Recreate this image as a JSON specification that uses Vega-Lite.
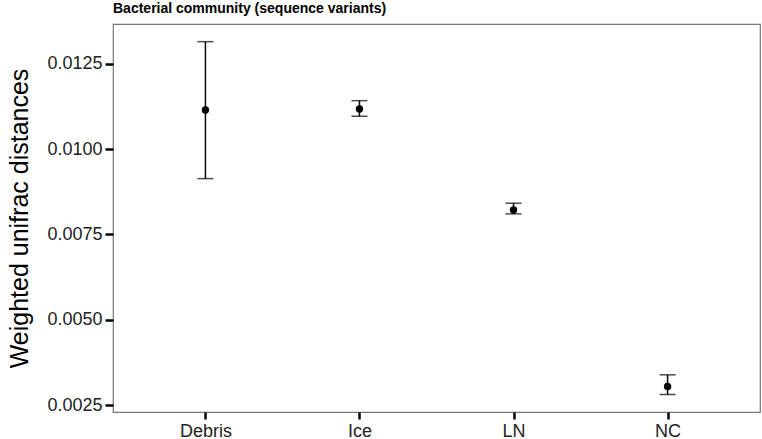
{
  "$schema": "https://vega.github.io/schema/vega-lite/v6.json",
  "autosize": "none",
  "width": 647,
  "height": 388,
  "padding": {"left": 113, "top": 24, "right": 2, "bottom": 27},
  "background": "white",
  "title": {
    "text": "Bacterial community (sequence variants)",
    "anchor": "start",
    "frame": "group",
    "font": "Liberation Sans",
    "fontSize": 14,
    "fontWeight": "bold",
    "color": "black",
    "offset": 8
  },
  "config": {
    "view": {"stroke": "#777777", "strokeWidth": 1.2},
    "axis": {
      "labelFont": "Liberation Sans",
      "titleFont": "Liberation Sans",
      "labelColor": "#222222",
      "tickColor": "black",
      "tickWidth": 2.5,
      "tickSize": 7,
      "domain": false,
      "grid": false
    }
  },
  "data": {
    "values": [
      {"group": "Debris", "mean": 0.011152, "lower": 0.009138, "upper": 0.013154},
      {"group": "Ice", "mean": 0.011181, "lower": 0.010967, "upper": 0.011424},
      {"group": "LN", "mean": 0.008221, "lower": 0.008104, "upper": 0.008417},
      {"group": "NC", "mean": 0.003042, "lower": 0.002808, "upper": 0.003385}
    ]
  },
  "encoding": {
    "x": {
      "field": "group",
      "type": "nominal",
      "scale": {"type": "point", "padding": 0.6},
      "axis": {"title": null, "labelAngle": 0, "labelFontSize": 18, "labelPadding": 3}
    }
  },
  "layer": [
    {
      "mark": {"type": "rule", "color": "black", "strokeWidth": 1.5},
      "encoding": {
        "y": {
          "field": "lower",
          "type": "quantitative",
          "scale": {"domain": [0.002295, 0.013672], "nice": false, "zero": false},
          "axis": {
            "title": "Weighted unifrac distances",
            "titleFontSize": 25,
            "titleFontWeight": "normal",
            "titleColor": "black",
            "titlePadding": 14,
            "values": [0.0025, 0.005, 0.0075, 0.01, 0.0125],
            "format": ".4f",
            "labelFontSize": 18,
            "labelPadding": 3,
            "tickSize": 8
          }
        },
        "y2": {"field": "upper"}
      }
    },
    {
      "mark": {"type": "tick", "color": "black", "size": 16, "thickness": 1.5, "orient": "horizontal"},
      "encoding": {"y": {"field": "lower", "type": "quantitative"}}
    },
    {
      "mark": {"type": "tick", "color": "black", "size": 16, "thickness": 1.5, "orient": "horizontal"},
      "encoding": {"y": {"field": "upper", "type": "quantitative"}}
    },
    {
      "mark": {"type": "point", "filled": true, "color": "black", "opacity": 1, "size": 55},
      "encoding": {"y": {"field": "mean", "type": "quantitative"}}
    }
  ]
}
